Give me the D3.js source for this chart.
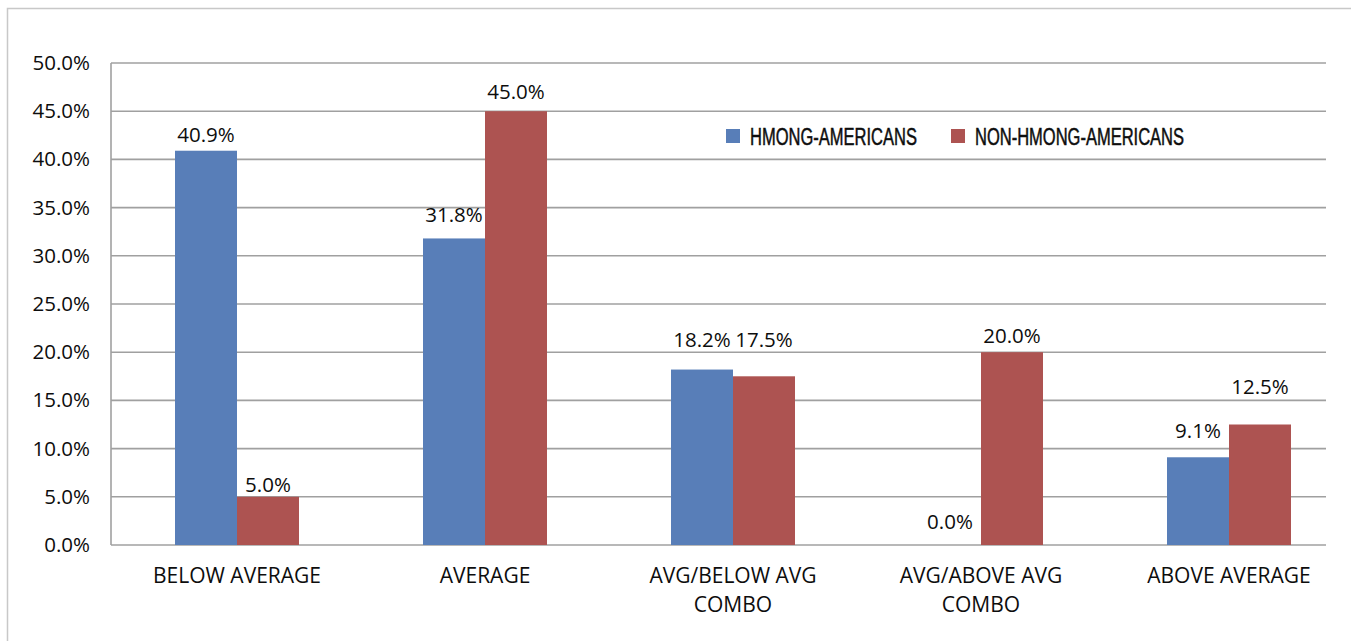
<!DOCTYPE html>
<html>
<head>
<meta charset="utf-8">
<script src="https://cdn.jsdelivr.net/npm/d3@7"></script>
<style>
  body { margin: 0; background: #fff; }
  svg text { font-family: 'Open Sans', sans-serif; fill: #0d0d0d; }
</style>
</head>
<body>
<svg id="chart" width="1351" height="641"></svg>
<script>
const categories = [['BELOW AVERAGE'], ['AVERAGE'], ['AVG/BELOW AVG', 'COMBO'], ['AVG/ABOVE AVG', 'COMBO'], ['ABOVE AVERAGE']]
const seriesNames = ['HMONG-AMERICANS', 'NON-HMONG-AMERICANS']
const hmong = [40.9, 31.8, 18.2, 0.0, 9.1]
const nonHmong = [5.0, 45.0, 17.5, 20.0, 12.5]
const yTicks = [0, 5, 10, 15, 20, 25, 30, 35, 40, 45, 50]

// label lift above bar top (px), excel placed them unevenly
const liftH = [9, 16, 23, 16, 19]
const liftN = [5, 12, 29, 9, 31]

const colors = ['#587EB8', '#AD5351']
const svg = d3.select('#chart')

// outer frame
svg.append('path')
  .attr('d', 'M7.5,641 V8.5 H1351')
  .attr('fill', 'none')
  .attr('stroke', '#c8c8c8')
  .attr('stroke-width', 1.5)

let plotL = 111, plotR = 1326, plotT = 63, plotB = 545

let x = d3.scaleBand()
  .domain(d3.range(categories.length))
  .range([113, 1353])
  .paddingInner(0.5)
  .paddingOuter(0.25)

let xs = d3.scaleBand()
  .domain([0, 1])
  .range([0, x.bandwidth()])

let y = d3.scaleLinear().domain([0, 50]).range([plotB, plotT])

// gridlines
svg.append('g')
  .selectAll('line')
  .data(yTicks)
  .enter().append('line')
  .attr('x1', plotL).attr('x2', plotR)
  .attr('y1', d => y(d)).attr('y2', d => y(d))
  .attr('stroke', '#a0a0a0')
  .attr('stroke-width', 1.6)

svg.append('line')
  .attr('x1', plotL).attr('x2', plotL)
  .attr('y1', plotT).attr('y2', plotB)
  .attr('stroke', '#a0a0a0')
  .attr('stroke-width', 1.6)

svg.append('g')
  .selectAll('text')
  .data(yTicks)
  .enter().append('text')
  .attr('x', 90)
  .attr('y', d => y(d) + 7)
  .attr('text-anchor', 'end')
  .style('font-size', '20.5px')
  .text(d => d.toFixed(1) + '%')

const series = [hmong, nonHmong]
const lifts = [liftH, liftN]

series.forEach((vals, s) => {
  let g = svg.append('g')
  g.selectAll('rect')
    .data(vals)
    .enter().append('rect')
    .attr('x', (d, i) => x(i) + xs(s))
    .attr('width', xs.bandwidth())
    .attr('y', d => y(d))
    .attr('height', d => plotB - y(d))
    .attr('fill', colors[s])

  g.selectAll('text')
    .data(vals)
    .enter().append('text')
    .attr('x', (d, i) => x(i) + xs(s) + xs.bandwidth() / 2)
    .attr('y', (d, i) => y(d) - lifts[s][i])
    .attr('text-anchor', 'middle')
    .style('font-size', '20.5px')
    .text(d => d.toFixed(1) + '%')
})

// category labels
let cat = svg.append('g')
  .selectAll('text')
  .data(categories)
  .enter().append('text')
  .attr('text-anchor', 'middle')
  .style('font-size', '21px')

cat.selectAll('tspan')
  .data((d, i) => d.map(t => ({ t, i })))
  .enter().append('tspan')
  .attr('x', d => x(d.i) + x.bandwidth() / 2)
  .attr('y', (d, j) => 583 + j * 29)
  .text(d => d.t)

// legend
let legendX = [726, 951]
let legendW = [167, 209]
seriesNames.forEach((name, s) => {
  svg.append('rect')
    .attr('x', legendX[s]).attr('y', 129)
    .attr('width', 14).attr('height', 14)
    .attr('fill', colors[s])
  svg.append('text')
    .attr('x', legendX[s] + 24).attr('y', 145)
    .attr('textLength', legendW[s])
    .attr('lengthAdjust', 'spacingAndGlyphs')
    .style('font-family', "'Liberation Sans Narrow', 'Liberation Sans', sans-serif")
    .style('font-size', '23px')
    .style('stroke', '#111')
    .style('stroke-width', 0.5)
    .text(name)
})
</script>
</body>
</html>
